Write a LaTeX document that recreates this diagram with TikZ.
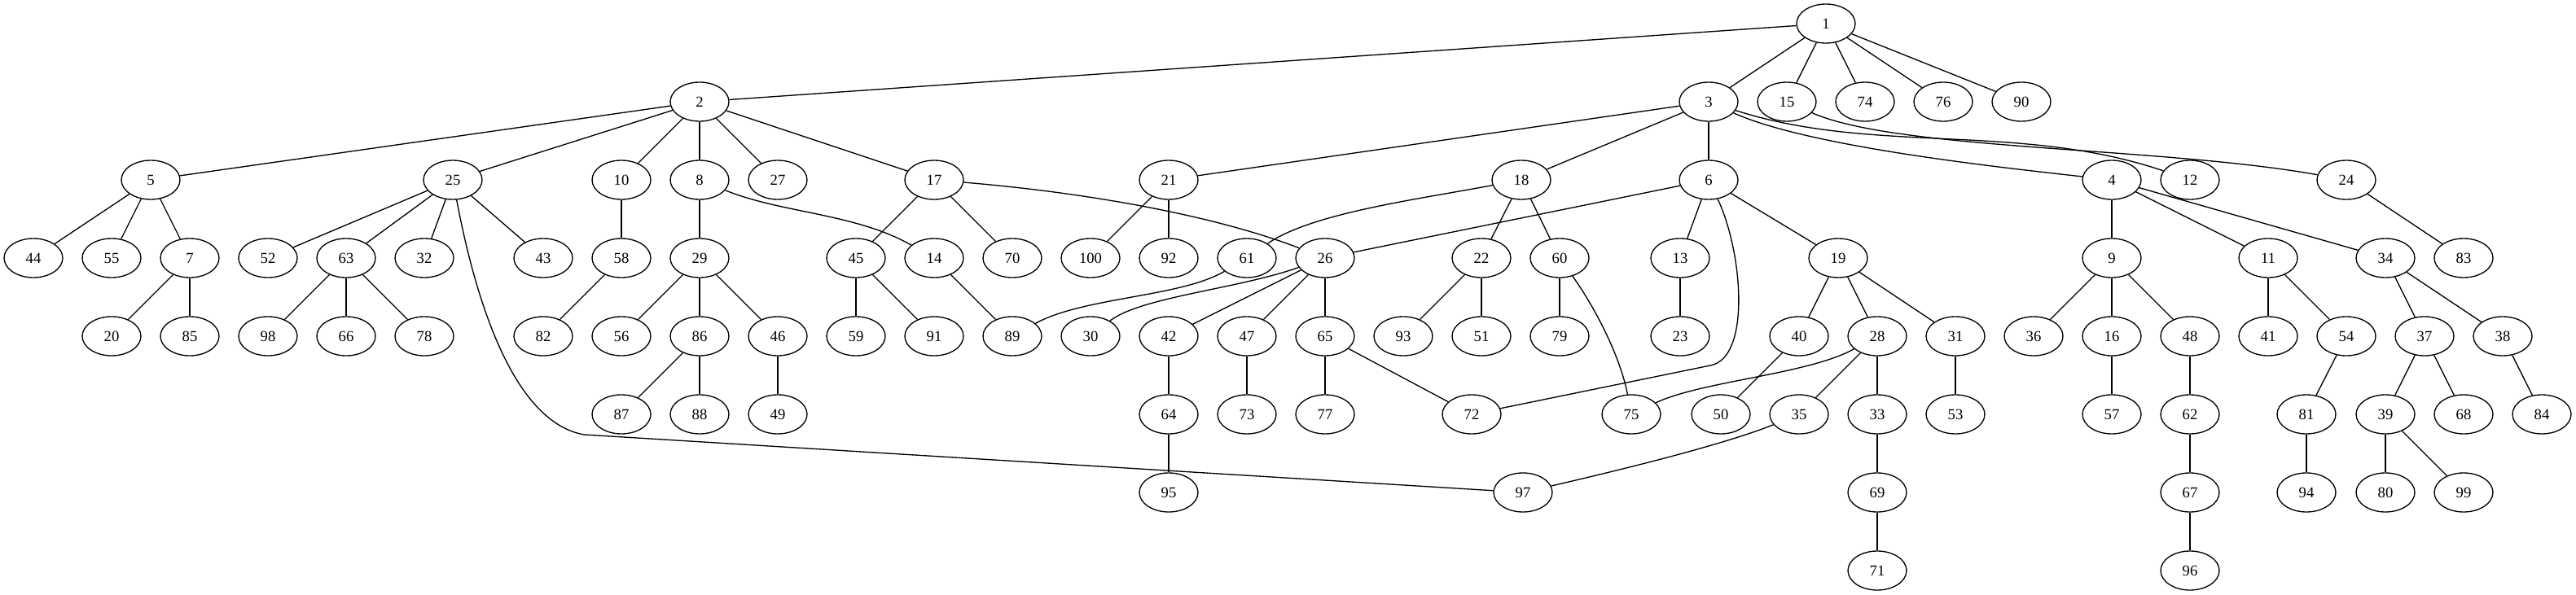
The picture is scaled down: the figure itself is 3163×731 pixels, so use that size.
\documentclass[tikz,border=0pt]{standalone}
\usepackage{fontspec}
\setmainfont{Liberation Serif}
\usetikzlibrary{shapes.geometric}
\tikzstyle{vertex} = [ellipse, draw, line width=1pt, minimum width=54pt, minimum height=36pt, inner sep=0pt, text centered, font=\fontsize{14}{16}\selectfont]
\tikzstyle{link} = [line width=1pt]
\begin{document}
\begin{tikzpicture}[x=0.75pt, y=-0.75pt]
\useasboundingbox (0,0) rectangle (3163,731);
%Rank 0 and 1
\node (n1) [vertex] at (2242,29) {1};
\node (n2) [vertex] at (859,125) {2};
\node (n3) [vertex] at (2098,125) {3};
\node (n15) [vertex] at (2194,125) {15};
\node (n74) [vertex] at (2290,125) {74};
\node (n76) [vertex] at (2386,125) {76};
\node (n90) [vertex] at (2482,125) {90};
%Rank 2
\node (n5) [vertex] at (185,221) {5};
\node (n25) [vertex] at (556,221) {25};
\node (n10) [vertex] at (763,221) {10};
\node (n8) [vertex] at (859,221) {8};
\node (n27) [vertex] at (955,221) {27};
\node (n17) [vertex] at (1147,221) {17};
\node (n21) [vertex] at (1435,221) {21};
\node (n18) [vertex] at (1868,221) {18};
\node (n6) [vertex] at (2098,221) {6};
\node (n4) [vertex] at (2593,221) {4};
\node (n12) [vertex] at (2689,221) {12};
\node (n24) [vertex] at (2881,221) {24};
%Rank 3
\node (n44) [vertex] at (41,317) {44};
\node (n55) [vertex] at (137,317) {55};
\node (n7) [vertex] at (233,317) {7};
\node (n52) [vertex] at (329,317) {52};
\node (n63) [vertex] at (425,317) {63};
\node (n32) [vertex] at (521,317) {32};
\node (n43) [vertex] at (667,317) {43};
\node (n58) [vertex] at (763,317) {58};
\node (n29) [vertex] at (859,317) {29};
\node (n45) [vertex] at (1051,317) {45};
\node (n14) [vertex] at (1147,317) {14};
\node (n70) [vertex] at (1243,317) {70};
\node (n100) [vertex] at (1339,317) {100};
\node (n92) [vertex] at (1435,317) {92};
\node (n61) [vertex] at (1531,317) {61};
\node (n26) [vertex] at (1627,317) {26};
\node (n22) [vertex] at (1819,317) {22};
\node (n60) [vertex] at (1915,317) {60};
\node (n13) [vertex] at (2063,317) {13};
\node (n19) [vertex] at (2257,317) {19};
\node (n9) [vertex] at (2593,317) {9};
\node (n11) [vertex] at (2785,317) {11};
\node (n34) [vertex] at (2929,317) {34};
\node (n83) [vertex] at (3025,317) {83};
%Rank 4
\node (n20) [vertex] at (137,413) {20};
\node (n85) [vertex] at (233,413) {85};
\node (n98) [vertex] at (329,413) {98};
\node (n66) [vertex] at (425,413) {66};
\node (n78) [vertex] at (521,413) {78};
\node (n82) [vertex] at (667,413) {82};
\node (n56) [vertex] at (763,413) {56};
\node (n86) [vertex] at (859,413) {86};
\node (n46) [vertex] at (955,413) {46};
\node (n59) [vertex] at (1051,413) {59};
\node (n91) [vertex] at (1147,413) {91};
\node (n89) [vertex] at (1243,413) {89};
\node (n30) [vertex] at (1339,413) {30};
\node (n42) [vertex] at (1435,413) {42};
\node (n47) [vertex] at (1531,413) {47};
\node (n65) [vertex] at (1627,413) {65};
\node (n93) [vertex] at (1723,413) {93};
\node (n51) [vertex] at (1819,413) {51};
\node (n79) [vertex] at (1915,413) {79};
\node (n23) [vertex] at (2063,413) {23};
\node (n40) [vertex] at (2209,413) {40};
\node (n28) [vertex] at (2305,413) {28};
\node (n31) [vertex] at (2401,413) {31};
\node (n36) [vertex] at (2497,413) {36};
\node (n16) [vertex] at (2593,413) {16};
\node (n48) [vertex] at (2689,413) {48};
\node (n41) [vertex] at (2785,413) {41};
\node (n54) [vertex] at (2881,413) {54};
\node (n37) [vertex] at (2977,413) {37};
\node (n38) [vertex] at (3073,413) {38};
%Rank 5
\node (n87) [vertex] at (763,509) {87};
\node (n88) [vertex] at (859,509) {88};
\node (n49) [vertex] at (955,509) {49};
\node (n64) [vertex] at (1435,509) {64};
\node (n73) [vertex] at (1531,509) {73};
\node (n77) [vertex] at (1627,509) {77};
\node (n72) [vertex] at (1807,509) {72};
\node (n75) [vertex] at (2003,509) {75};
\node (n50) [vertex] at (2113,509) {50};
\node (n35) [vertex] at (2209,509) {35};
\node (n33) [vertex] at (2305,509) {33};
\node (n53) [vertex] at (2401,509) {53};
\node (n57) [vertex] at (2593,509) {57};
\node (n62) [vertex] at (2689,509) {62};
\node (n81) [vertex] at (2832,509) {81};
\node (n39) [vertex] at (2929,509) {39};
\node (n68) [vertex] at (3025,509) {68};
\node (n84) [vertex] at (3121,509) {84};
%Rank 6 and 7
\node (n95) [vertex] at (1435,605) {95};
\node (n97) [vertex] at (1870,605) {97};
\node (n69) [vertex] at (2305,605) {69};
\node (n67) [vertex] at (2689,605) {67};
\node (n94) [vertex] at (2832,605) {94};
\node (n80) [vertex] at (2929,605) {80};
\node (n99) [vertex] at (3025,605) {99};
\node (n71) [vertex] at (2305,701) {71};
\node (n96) [vertex] at (2689,701) {96};
%Edges
\draw [link] (n1) -- (n2);
\draw [link] (n1) -- (n3);
\draw [link] (n1) -- (n15);
\draw [link] (n1) -- (n74);
\draw [link] (n1) -- (n76);
\draw [link] (n1) -- (n90);
\draw [link] (n2) -- (n5);
\draw [link] (n2) -- (n25);
\draw [link] (n2) -- (n10);
\draw [link] (n2) -- (n8);
\draw [link] (n2) -- (n27);
\draw [link] (n2) -- (n17);
\draw [link] (n3) -- (n21);
\draw [link] (n3) -- (n18);
\draw [link] (n3) -- (n6);
\draw [link] (n3) .. controls (2220,180) and (2450,205) .. (n4);
\draw [link] (n3) .. controls (2300,190) and (2480,150) .. (n12);
\draw [link] (n15) .. controls (2330,185) and (2650,180) .. (n24);
\draw [link] (n5) -- (n44);
\draw [link] (n5) -- (n55);
\draw [link] (n5) -- (n7);
\draw [link] (n7) -- (n20);
\draw [link] (n7) -- (n85);
\draw [link] (n25) -- (n52);
\draw [link] (n25) -- (n63);
\draw [link] (n25) -- (n32);
\draw [link] (n25) -- (n43);
\draw [link] (n25) .. controls (590,400) and (640,520) .. (717,534) -- (n97);
\draw [link] (n63) -- (n98);
\draw [link] (n63) -- (n66);
\draw [link] (n63) -- (n78);
\draw [link] (n10) -- (n58);
\draw [link] (n58) -- (n82);
\draw [link] (n8) -- (n29);
\draw [link] (n8) .. controls (960,262) and (1050,262) .. (n14);
\draw [link] (n29) -- (n56);
\draw [link] (n29) -- (n86);
\draw [link] (n29) -- (n46);
\draw [link] (n86) -- (n87);
\draw [link] (n86) -- (n88);
\draw [link] (n46) -- (n49);
\draw [link] (n17) -- (n45);
\draw [link] (n17) -- (n70);
\draw [link] (n17) .. controls (1350,238) and (1500,268) .. (n26);
\draw [link] (n45) -- (n59);
\draw [link] (n45) -- (n91);
\draw [link] (n14) -- (n89);
\draw [link] (n21) -- (n100);
\draw [link] (n21) -- (n92);
\draw [link] (n18) .. controls (1740,245) and (1610,262) .. (n61);
\draw [link] (n61) .. controls (1450,365) and (1330,365) .. (n89);
\draw [link] (n26) .. controls (1520,355) and (1400,365) .. (n30);
\draw [link] (n26) -- (n42);
\draw [link] (n26) -- (n47);
\draw [link] (n26) -- (n65);
\draw [link] (n42) -- (n64);
\draw [link] (n64) -- (n95);
\draw [link] (n47) -- (n73);
\draw [link] (n65) -- (n77);
\draw [link] (n65) -- (n72);
\draw [link] (n18) -- (n22);
\draw [link] (n18) -- (n60);
\draw [link] (n22) -- (n93);
\draw [link] (n22) -- (n51);
\draw [link] (n60) -- (n79);
\draw [link] (n60) .. controls (1960,380) and (1990,440) .. (n75);
\draw [link] (n6) -- (n26);
\draw [link] (n6) -- (n13);
\draw [link] (n6) -- (n19);
\draw [link] (n6) .. controls (2140,310) and (2150,440) .. (2100,449) -- (n72);
\draw [link] (n13) -- (n23);
\draw [link] (n19) -- (n40);
\draw [link] (n19) -- (n28);
\draw [link] (n19) -- (n31);
\draw [link] (n40) -- (n50);
\draw [link] (n28) .. controls (2220,460) and (2090,468) .. (n75);
\draw [link] (n28) -- (n35);
\draw [link] (n28) -- (n33);
\draw [link] (n35) .. controls (2120,545) and (2000,575) .. (n97);
\draw [link] (n33) -- (n69);
\draw [link] (n69) -- (n71);
\draw [link] (n31) -- (n53);
\draw [link] (n4) -- (n9);
\draw [link] (n4) -- (n11);
\draw [link] (n4) -- (n34);
\draw [link] (n9) -- (n36);
\draw [link] (n9) -- (n16);
\draw [link] (n9) -- (n48);
\draw [link] (n16) -- (n57);
\draw [link] (n48) -- (n62);
\draw [link] (n62) -- (n67);
\draw [link] (n67) -- (n96);
\draw [link] (n11) -- (n41);
\draw [link] (n11) -- (n54);
\draw [link] (n54) -- (n81);
\draw [link] (n81) -- (n94);
\draw [link] (n34) -- (n37);
\draw [link] (n34) -- (n38);
\draw [link] (n37) -- (n39);
\draw [link] (n37) -- (n68);
\draw [link] (n39) -- (n80);
\draw [link] (n39) -- (n99);
\draw [link] (n38) -- (n84);
\draw [link] (n24) -- (n83);
\end{tikzpicture}
\end{document}
